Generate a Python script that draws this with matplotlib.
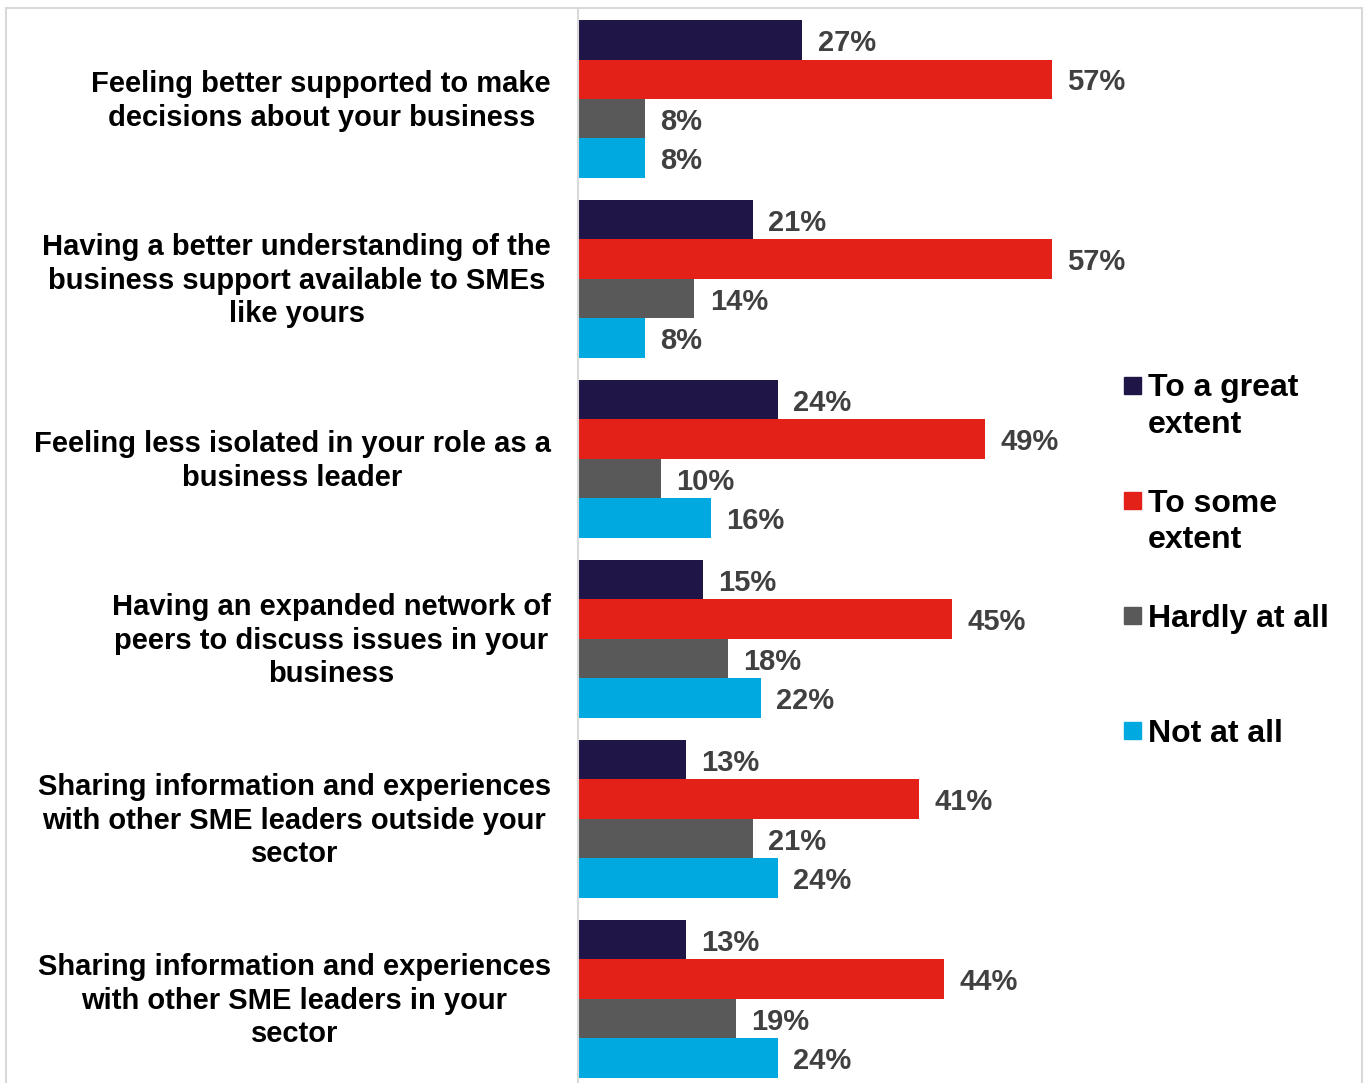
import matplotlib.pyplot as plt
from matplotlib.patches import Rectangle
from matplotlib.transforms import ScaledTranslation
import numpy as np

plt.rcParams['font.family'] = ['Liberation Sans', 'DejaVu Sans']
plt.rcParams['font.weight'] = 'bold'

categories = [
    "Feeling better supported to make\ndecisions about your business",
    "Having a better understanding of the\nbusiness support available to SMEs\nlike yours",
    "Feeling less isolated in your role as a\nbusiness leader",
    "Having an expanded network of\npeers to discuss issues in your\nbusiness",
    "Sharing information and experiences\nwith other SME leaders outside your\nsector",
    "Sharing information and experiences\nwith other SME leaders in your\nsector",
]
series = ["To a great\nextent", "To some\nextent", "Hardly at all", "Not at all"]
great = [27, 21, 24, 15, 13, 13]
some = [57, 57, 49, 45, 41, 44]
hardly = [8, 14, 10, 18, 21, 19]
not_at_all = [8, 8, 16, 22, 24, 24]
colors = ["#201547", "#E32119", "#595959", "#00A9E0"]

W, H = 1367, 1083
fig = plt.figure(figsize=(W / 100, H / 100), dpi=100)
ax = fig.add_axes([578 / W, 0, (1110 - 578) / W, (H - 9) / H])

y = np.arange(len(categories))
h = 0.2194
for i, vals in enumerate([great, some, hardly, not_at_all]):
    pos = y + (i - 1.5) * h
    ax.barh(pos, vals, height=h, color=colors[i], edgecolor='none')
    for p, v in zip(pos, vals):
        ax.annotate(f"{v}%", (v, p), xytext=(11, -2.2), textcoords='offset points',
                    ha='left', va='center', fontsize=21, color='#404040', fontweight='bold')

ax.set_xlim(0, 64.0)
ax.set_ylim(5.467, -0.5)
ax.set_xticks([])
ax.set_yticks([])

# category names, right edge a little left of the axis line
label_tr = ax.get_yaxis_transform() + ScaledTranslation(-27 / 100, -2 / 100, fig.dpi_scale_trans)
for yi, name in zip(y, categories):
    ax.text(0, yi, name, transform=label_tr, ha='right', va='center',
            multialignment='center', linespacing=1.25,
            fontsize=21, fontweight='bold', color='black')

for s in ['top', 'right', 'bottom']:
    ax.spines[s].set_visible(False)
ax.spines['left'].set_color('#D9D9D9')
ax.spines['left'].set_linewidth(1.5)

# legend drawn by hand so the swatch sits on the first text line
for i, name in enumerate(series):
    yc = 385 + i * 115
    fig.add_artist(Rectangle((1124 / W, 1 - (yc + 8.5) / H), 17 / W, 17 / H,
                             transform=fig.transFigure, color=colors[i]))
    fig.text(1148 / W, 1 - (yc - 11.5) / H, name, ha='left', va='top',
             fontsize=23, fontweight='bold', color='black', linespacing=1.3)

fig.add_artist(Rectangle((6 / W, -0.01), (1362 - 6) / W, 1.01 - 8 / H,
                         transform=fig.transFigure, fill=False,
                         edgecolor='#D9D9D9', linewidth=1.5))

fig.savefig("out.png", dpi=100)
